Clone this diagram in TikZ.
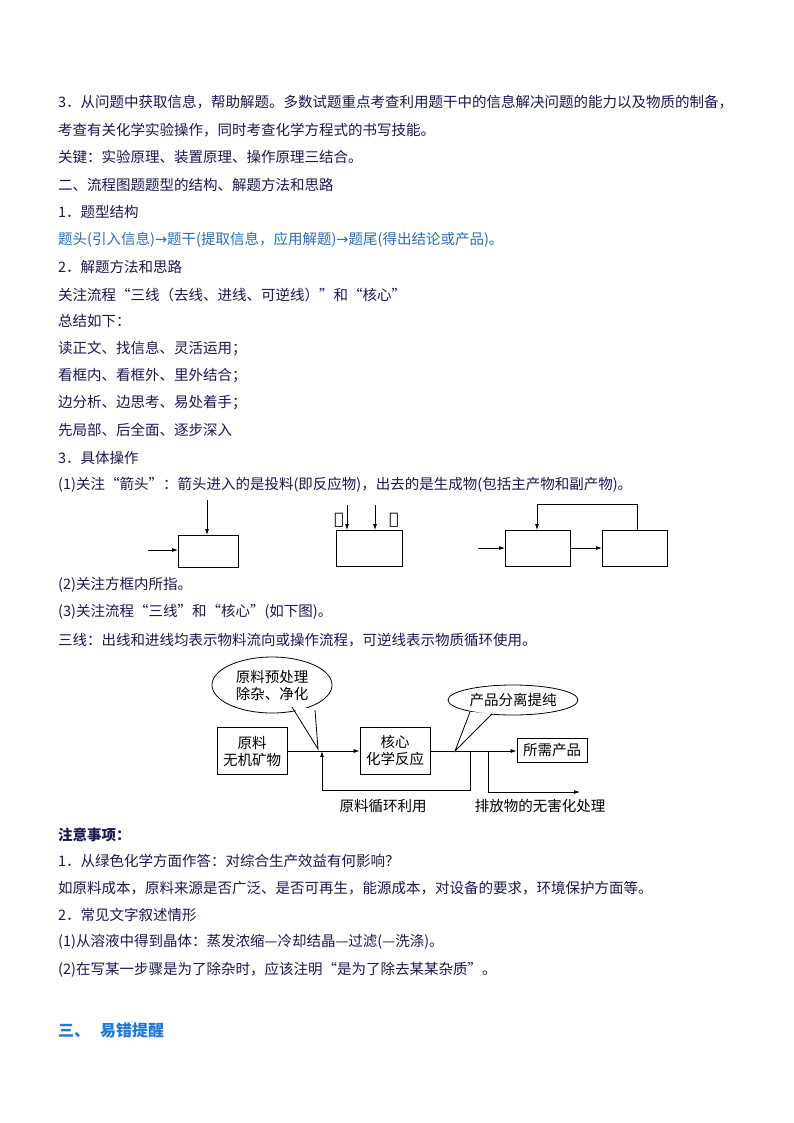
\documentclass[tikz,border=0pt]{standalone}
\usepackage{fontspec}
\setmainfont{Noto Sans CJK SC}
\newfontfamily\symf{DejaVu Sans}
\newfontfamily\serf{DejaVu Serif}
\usetikzlibrary{arrows.meta,shapes.geometric}
\definecolor{ink}{HTML}{1A1A50}
\definecolor{bl}{HTML}{2E6DB4}
\definecolor{hd}{HTML}{1E7AD8}
\begin{document}
\begin{tikzpicture}[x=1pt,y=-1pt,
  txt/.style={anchor=west,inner sep=0pt,text=ink,font=\fontsize{14.5}{15}\selectfont},
  bx/.style={draw,thick,minimum width=#1,minimum height=32,inner sep=0pt},
  fb/.style={draw,thick,align=center,inner sep=2pt,font=\fontsize{14.5}{17}\selectfont},
  ar/.style={-{Latex[length=6pt,width=4pt]},thick},
  lab/.style={inner sep=0pt,font=\fontsize{14.5}{16}\selectfont}]
\useasboundingbox (0,0) rectangle (794,1123);
\fill[white] (0,0) rectangle (794,1123);
\node[txt] (t1) at (58,102) {3．从问题中获取信息，帮助解题。多数试题重点考查利用题干中的信息解决问题的能力以及物质的制备，};
\node[txt] (t2) at (58,130) {考查有关化学实验操作，同时考查化学方程式的书写技能。};
\node[txt] (t3) at (58,157) {关键：实验原理、装置原理、操作原理三结合。};
\node[txt] (t4) at (58,185) {二、流程图题题型的结构、解题方法和思路};
\node[txt] (t5) at (58,212) {1．题型结构};
\node[txt,text=bl] (t6) at (58,240) {题头(引入信息){\symf →}题干(提取信息，应用解题){\symf →}题尾(得出结论或产品)。};
\node[txt] (t7) at (58,267) {2．解题方法和思路};
\node[txt] (t8) at (58,295) {关注流程“三线（去线、进线、可逆线）”和“核心”};
\node[txt] (t9) at (58,321) {总结如下：};
\node[txt] (t10) at (58,349) {读正文、找信息、灵活运用；};
\node[txt] (t11) at (58,376) {看框内、看框外、里外结合；};
\node[txt] (t12) at (58,403) {边分析、边思考、易处着手；};
\node[txt] (t13) at (58,430) {先局部、后全面、逐步深入};
\node[txt] (t14) at (58,458) {3．具体操作};
\node[txt] (t15) at (58,485) {(1)关注“箭头”：箭头进入的是投料(即反应物)，出去的是生成物(包括主产物和副产物)。};
% diagram 1
\node[bx=60,anchor=north west] (b1) at (178,535) {};
\coordinate (b1t) at (207,500);
\coordinate (b1l) at (148,550);
\draw[ar] (b1t) -- (b1t |- b1.north);
\draw[ar] (b1l) -- (b1l -| b1.west);
\node[bx=66,minimum height=36,anchor=north west] (b2) at (336,530) {};
\coordinate (b2a) at (347,505);
\coordinate (b2b) at (375,505);
\draw[ar] (b2a) -- (b2a |- b2.north);
\draw[ar] (b2b) -- (b2b |- b2.north);
\node[lab,font=\serf\fontsize{16}{17}\selectfont] (c1) at (339,520) {①};
\node[lab,font=\serf\fontsize{16}{17}\selectfont] (c2) at (394,520) {②};
\node[bx=65,minimum height=36,anchor=north west] (b3) at (505,530) {};
\node[bx=65,minimum height=36,anchor=north west] (b4) at (602,530) {};
\coordinate (b3i) at (478,548);
\draw[ar] (b3i) -- (b3i -| b3.west);
\draw[ar] (b3.east |- 0,548) -- (b4.west |- 0,548);
\draw[ar] (637,530) -- (637,504) -- (537,504) -- (537,530);
\node[txt] (t16) at (58,585) {(2)关注方框内所指。};
\node[txt] (t17) at (58,612) {(3)关注流程“三线”和“核心”(如下图)。};
\node[txt] (t18) at (58,640) {三线：出线和进线均表示物料流向或操作流程，可逆线表示物质循环使用。};
% diagram 2
\node[fb,minimum width=70,minimum height=47] (raw) at (252,751) {原料\\无机矿物};
\node[fb,minimum width=70,minimum height=47] (core) at (395,751) {核心\\化学反应};
\node[fb,minimum width=70,minimum height=24] (prod) at (552,750) {所需产品};
\coordinate (j1) at (318,751);
\draw[ar] (raw.east |- j1) -- (core.west |- j1);
\draw[ar] (core.east |- j1) -- (prod.west |- j1);
\draw[ar] (470,751) -- (470,790) -- (322,790) -- (322,751);
\draw[ar] (488,751) -- (488,792) -- (580,792);
\node[lab] (l1) at (383,806) {原料循环利用};
\node[lab] (l2) at (540,806) {排放物的无害化处理};
% callouts
\fill[white,draw,thick] (292,707) -- (318,749) -- (315,710) -- cycle;
\node[draw,thick,fill=white,ellipse,minimum width=120,minimum height=56,inner sep=0pt,align=center,font=\fontsize{14.5}{17}\selectfont] (e1) at (272,685) {原料预处理\\除杂、净化};
\fill[white] (293,706) -- (318,749) -- (314,709) -- cycle;
\draw[thick] (292,707) -- (318,749) -- (315,710);
\fill[white,draw,thick] (470,712) -- (455,751) -- (492,714) -- cycle;
\node[draw,thick,fill=white,ellipse,minimum width=130,minimum height=30,inner sep=0pt,font=\fontsize{14.5}{17}\selectfont] (e2) at (513,700) {产品分离提纯};
\fill[white] (471,712) -- (456,750) -- (491,713) -- cycle;
\draw[thick] (470,712) -- (455,751) -- (492,714);
% notes
\node[txt,font=\bfseries\fontsize{14.5}{15}\selectfont] (t19) at (58,835) {注意事项：};
\node[txt] (t20) at (58,861) {1．从绿色化学方面作答：对综合生产效益有何影响？};
\node[txt] (t21) at (58,888) {如原料成本，原料来源是否广泛、是否可再生，能源成本，对设备的要求，环境保护方面等。};
\node[txt] (t22) at (58,915) {2．常见文字叙述情形};
\node[txt] (t23) at (58,942) {(1)从溶液中得到晶体：蒸发浓缩—冷却结晶—过滤(—洗涤)。};
\node[txt] (t24) at (58,970) {(2)在写某一步骤是为了除杂时，应该注明“是为了除去某某杂质”。};
\node[txt,text=hd,font=\bfseries\fontsize{16}{17}\selectfont] (h) at (58,1030) {三、\hspace{10pt}易错提醒};
\end{tikzpicture}
\end{document}
